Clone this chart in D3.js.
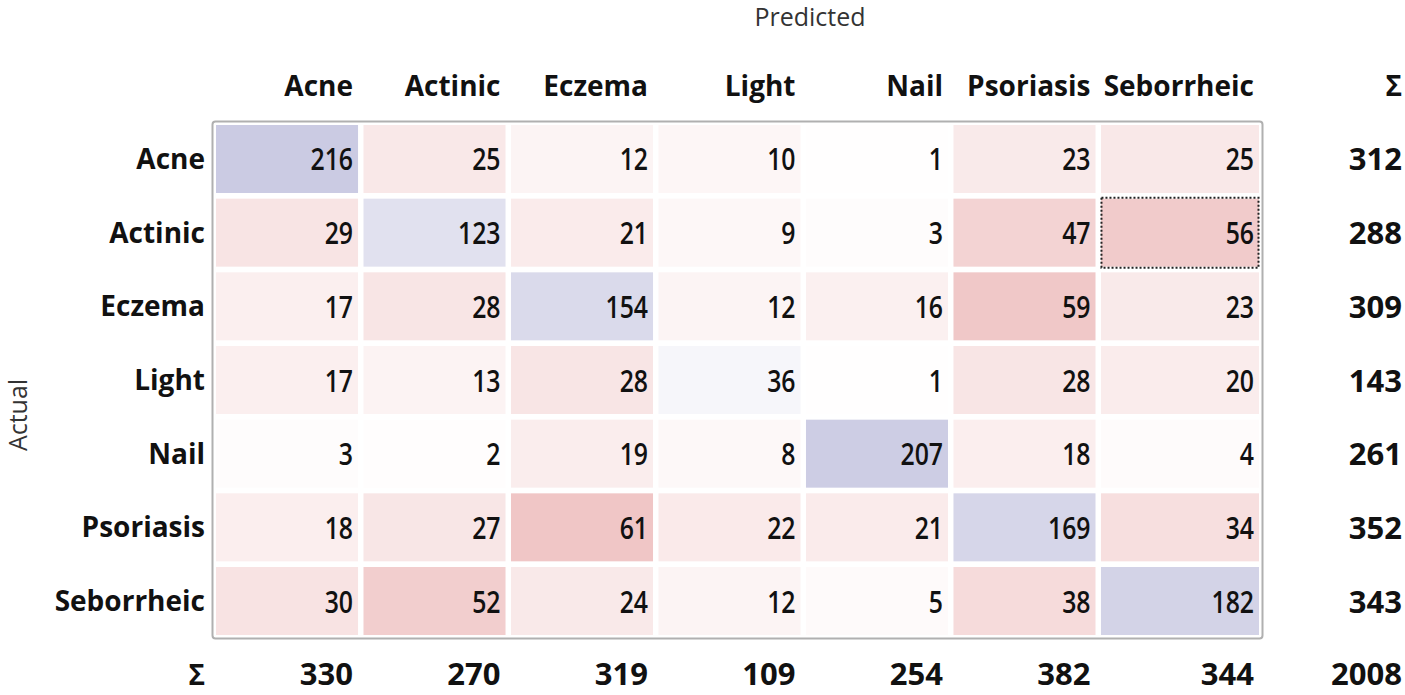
<!DOCTYPE html>
<html>
  <head>
    <meta charset="utf-8">
    <title>Confusion matrix</title>
    <script src="https://d3js.org/d3.v7.min.js"></script>
    <style>
      body { margin: 0; background: #fff; }
      text { font-family: "Open Sans", "Noto Sans", sans-serif; fill: #111; }
      .head { font-weight: bold; font-size: 28px; }
      .num { font-size: 31px; font-weight: 600; }
      .sum { font-weight: bold; font-size: 31px; }
      .axis-title { font-size: 25px; fill: #333; }
    </style>
  </head>
  <body>
    <svg width="1405" height="695"></svg>

  <script>
    // class labels (rows = actual, columns = predicted)
    var categories = ["Acne", "Actinic", "Eczema", "Light", "Nail", "Psoriasis", "Seborrheic"];

    // counts, one array per actual class
    var acne       = [216, 25, 12, 10, 1, 23, 25];
    var actinic    = [29, 123, 21, 9, 3, 47, 56];
    var eczema     = [17, 28, 154, 12, 16, 59, 23];
    var light      = [17, 13, 28, 36, 1, 28, 20];
    var nail       = [3, 2, 19, 8, 207, 18, 4];
    var psoriasis  = [18, 27, 61, 22, 21, 169, 34];
    var seborrheic = [30, 52, 24, 12, 5, 38, 182];

    var rowTotals = [312, 288, 309, 143, 261, 352, 343];
    var colTotals = [330, 270, 319, 109, 254, 382, 344];
    var grandTotal = 2008;

    var rows = [acne, actinic, eczema, light, nail, psoriasis, seborrheic];

    var svg = d3.select("svg");

    // scales
    var x = d3.scaleBand().domain(categories).range([216, 1243]).paddingInner(0.037);
    var y = d3.scaleBand().domain(categories).range([125, 635]).paddingInner(0.077);
    var lastRight = 1259;

    var diagColor = d3.scaleLinear().domain([0, 216]).range(["#ffffff", "#cbcbe3"]);
    var offColor = d3.scaleLinear().domain([0, 61]).range(["#ffffff", "#f0c6c6"]);

    function cellWidth(c) {
      return c === categories[categories.length - 1] ? lastRight - x(c) : x.bandwidth();
    }

    var cells = [];
    rows.forEach(function(r, i) {
      r.forEach(function(v, j) {
        cells.push({ actual: categories[i], predicted: categories[j], value: v, diag: i === j });
      });
    });

    // frame
    svg.append("rect")
       .attr("x", 212.5)
       .attr("y", 121.5)
       .attr("width", 1050)
       .attr("height", 517)
       .attr("rx", 3)
       .attr("fill", "none")
       .attr("stroke", "#b0b0b0")
       .attr("stroke-width", 2);

    var g = svg.append("g");

    g.selectAll(".cell")
     .data(cells)
     .enter().append("rect")
     .attr("class", "cell")
     .attr("x", function(d) { return x(d.predicted); })
     .attr("y", function(d) { return y(d.actual); })
     .attr("width", function(d) { return cellWidth(d.predicted); })
     .attr("height", y.bandwidth())
     .attr("fill", function(d) { return d.diag ? diagColor(d.value) : offColor(d.value); });

    // cell numbers, right aligned, slightly condensed
    g.selectAll(".num")
     .data(cells)
     .enter().append("text")
     .attr("class", "num")
     .attr("text-anchor", "end")
     .attr("transform", function(d) {
       var tx = x(d.predicted) + cellWidth(d.predicted) - 5;
       var ty = y(d.actual) + y.bandwidth() / 2 + 11.5;
       return "translate(" + tx + "," + ty + ") scale(0.8,1)";
     })
     .text(function(d) { return d.value; });

    // focus rectangle (dotted) on Actinic / Seborrheic
    svg.append("rect")
       .attr("x", x("Seborrheic") + 0.5)
       .attr("y", y("Actinic") - 1)
       .attr("width", cellWidth("Seborrheic") - 1)
       .attr("height", y.bandwidth() + 2)
       .attr("fill", "none")
       .attr("stroke", "#222")
       .attr("stroke-width", 2)
       .attr("stroke-dasharray", "2,2");

    // column headers
    svg.selectAll(".colhead")
       .data(categories)
       .enter().append("text")
       .attr("class", "head")
       .attr("text-anchor", "end")
       .attr("x", function(d) { return x(d) + cellWidth(d) - 5; })
       .attr("y", 96)
       .text(function(d) { return d; });

    // row headers
    svg.selectAll(".rowhead")
       .data(categories)
       .enter().append("text")
       .attr("class", "head")
       .attr("text-anchor", "end")
       .attr("x", 205)
       .attr("y", function(d) { return y(d) + y.bandwidth() / 2 + 10; })
       .text(function(d) { return d; });

    // row totals
    svg.selectAll(".rowsum")
       .data(rowTotals)
       .enter().append("text")
       .attr("class", "sum")
       .attr("text-anchor", "end")
       .attr("x", 1402)
       .attr("y", function(d, i) { return y(categories[i]) + y.bandwidth() / 2 + 11.5; })
       .text(function(d) { return d; });

    // column totals
    svg.selectAll(".colsum")
       .data(colTotals)
       .enter().append("text")
       .attr("class", "sum")
       .attr("text-anchor", "end")
       .attr("x", function(d, i) { var c = categories[i]; return x(c) + cellWidth(c) - 5; })
       .attr("y", 685)
       .text(function(d) { return d; });

    svg.append("text").attr("class", "sum").attr("text-anchor", "end")
       .attr("x", 1402).attr("y", 685).text(grandTotal);

    // sigma labels
    svg.append("text").attr("class", "head").attr("text-anchor", "end")
       .attr("x", 1402).attr("y", 96).text("\u03A3");
    svg.append("text").attr("class", "head").attr("text-anchor", "end")
       .attr("x", 205).attr("y", 685).text("\u03A3");

    // axis titles
    svg.append("text")
       .attr("class", "axis-title")
       .attr("text-anchor", "middle")
       .attr("x", 810)
       .attr("y", 26)
       .text("Predicted");

    svg.append("text")
       .attr("class", "axis-title")
       .attr("text-anchor", "middle")
       .attr("transform", "translate(27,415) rotate(-90)")
       .text("Actual");
  </script>
  </body>
</html>
